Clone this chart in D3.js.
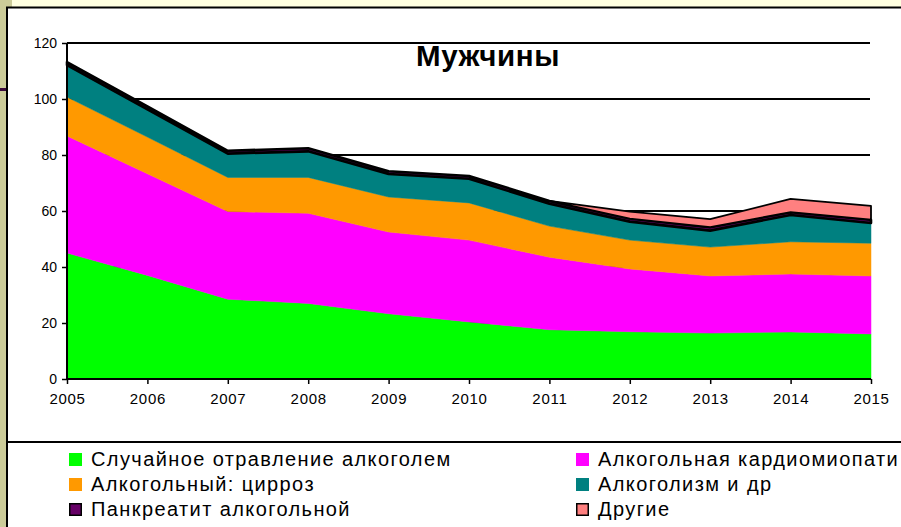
<!DOCTYPE html>
<html>
<head>
<meta charset="utf-8">
<script src="https://cdn.jsdelivr.net/npm/d3@7"></script>
<style>
html,body{margin:0;padding:0;background:#FFFFE0;overflow:hidden;}
svg{display:block;font-family:"Liberation Sans",Arial,sans-serif;}
</style>
</head>
<body>
<svg id="chart" width="901" height="527"></svg>
<script>
const years = ["2005","2006","2007","2008","2009","2010","2011","2012","2013","2014","2015"];
const poisoning   = [45, 37, 28.5, 27, 23.3, 20.4, 17.6, 16.9, 16.4, 16.8, 16.1];
const cardio      = [41.8, 36.3, 31.3, 32.2, 29.2, 29.2, 25.9, 22.4, 20.4, 20.7, 20.7];
const cirrhosis   = [13.9, 13.1, 12.2, 12.8, 12.5, 13.3, 11.1, 10.3, 10.3, 11.5, 11.7];
const alcoholism  = [11.4, 9.9, 8.5, 9.3, 8.2, 8.6, 8.0, 6.6, 5.9, 9.6, 7.2];
const pancreatitis= [1.1, 1.1, 1.0, 1.1, 1.0, 1.0, 1.0, 1.1, 1.2, 1.0, 1.2];
const other       = [0, 0, 0, 0, 0, 0, 0, 2.5, 2.9, 4.7, 4.9];
const yTicks = [0, 20, 40, 60, 80, 100, 120];
const title = "Мужчины";

const series = [
  {key:"poisoning", name:"Случайное отравление алкоголем", values:poisoning, color:"#00FF00", stroke:null},
  {key:"cardio", name:"Алкогольная кардиомиопати", values:cardio, color:"#FF00FF", stroke:null},
  {key:"cirrhosis", name:"Алкогольный: цирроз", values:cirrhosis, color:"#FF9900", stroke:null},
  {key:"alcoholism", name:"Алкоголизм и др", values:alcoholism, color:"#008080", stroke:null},
  {key:"pancreatitis", name:"Панкреатит алкогольной", values:pancreatitis, color:"#660066", stroke:"#000"},
  {key:"other", name:"Другие", values:other, color:"#FF8080", stroke:"#000"}
];

const table = years.map((yr,i)=>{
  const row = {year:yr};
  series.forEach(s=>row[s.key]=s.values[i]);
  return row;
});

const svg = d3.select("#chart");

// page decoration
svg.append("rect").attr("x",0).attr("y",0).attr("width",901).attr("height",527).attr("fill","#FFFFE0");
svg.append("rect").attr("x",0).attr("y",0).attr("width",7).attr("height",527).attr("fill","#CCCC99");
svg.append("rect").attr("x",0).attr("y",0).attr("width",12).attr("height",7).attr("fill","#CCCC99");
svg.append("rect").attr("x",0).attr("y",88).attr("width",7).attr("height",3).attr("fill","#3a0a3a");
svg.append("rect").attr("x",7).attr("y",7.5).attr("width",902).attr("height",530)
  .attr("fill","#fff").attr("stroke","#000").attr("stroke-width",2);
svg.append("line").attr("x1",8).attr("x2",901).attr("y1",442).attr("y2",442)
  .attr("stroke","#000").attr("stroke-width",2);

const x = d3.scalePoint().domain(years).range([67, 871]);
const y = d3.scaleLinear().domain([0,120]).range([379, 43]);

// gridlines
svg.append("g").selectAll("line").data(yTicks.filter(d=>d>0)).join("line")
  .attr("x1",67).attr("x2",870).attr("y1",d=>y(d)).attr("y2",d=>y(d))
  .attr("stroke","#000").attr("stroke-width",2);

const stack = d3.stack().keys(series.map(s=>s.key));
const stacked = stack(table);
const area = d3.area()
  .x(d=>x(d.data.year))
  .y0(d=>y(d[0]))
  .y1(d=>y(d[1]));

const ag = svg.append("g");
stacked.forEach((layer,i)=>{
  const s = series[i];
  let data = layer;
  if (s.key==="other") data = layer.filter((d,j)=>j>=6);
  ag.append("path").datum(data).attr("d",area)
    .attr("fill",s.color)
    .attr("stroke", s.stroke || s.color)
    .attr("stroke-width", s.key==="pancreatitis" ? 2.6 : (s.stroke ? 1.8 : 0.5))
    .attr("stroke-linejoin","round");
});

// axes
const yAxis = d3.axisLeft(y).tickValues(yTicks).tickSize(5).tickPadding(5);
const gy = svg.append("g").attr("transform","translate(67,0)").call(yAxis);
gy.select(".domain").attr("stroke","#000").attr("stroke-width",2).attr("d","M0,43V379");
gy.selectAll(".tick line").attr("stroke","#000").attr("stroke-width",1.5);
gy.selectAll("text").attr("font-size","14px").attr("fill","#000")
  .attr("font-family","'Liberation Sans',Arial,sans-serif");

const xAxis = d3.axisBottom(x).tickSize(5).tickPadding(6);
const gx = svg.append("g").attr("transform","translate(0,379)").call(xAxis);
gx.select(".domain").attr("stroke","#000").attr("stroke-width",2).attr("d","M67,0H871");
gx.selectAll(".tick line").attr("stroke","#000").attr("stroke-width",1.5);
gx.selectAll("text").attr("font-size","15px").attr("fill","#000").attr("letter-spacing","0.7px")
  .attr("font-family","'Liberation Sans',Arial,sans-serif").attr("dy","0.95em");

// title
svg.append("text").attr("x",488).attr("y",66).attr("text-anchor","middle")
  .attr("font-size","29.5px").attr("font-weight","bold").attr("letter-spacing","0.6px")
  .attr("fill","#000").text(title);

// legend
const legendPos = [
  {col:0,row:0},{col:1,row:0},{col:0,row:1},{col:1,row:1},{col:0,row:2},{col:1,row:2}
];
const colX = [69, 576];
const lg = svg.append("g");
series.forEach((s,i)=>{
  const p = legendPos[i];
  const bx = colX[p.col], by = 453 + p.row*25;
  lg.append("rect").attr("x",bx+ (s.stroke?0.75:0)).attr("y",by+(s.stroke?0.75:0))
    .attr("width",s.stroke?11.5:13).attr("height",s.stroke?11.5:13)
    .attr("fill",s.color).attr("stroke",s.stroke||"none").attr("stroke-width",1.5);
  lg.append("text").attr("x",bx+22).attr("y",by+13).attr("font-size","20px")
    .attr("letter-spacing","1.4px").attr("fill","#000").text(s.name);
});
</script>
</body>
</html>
